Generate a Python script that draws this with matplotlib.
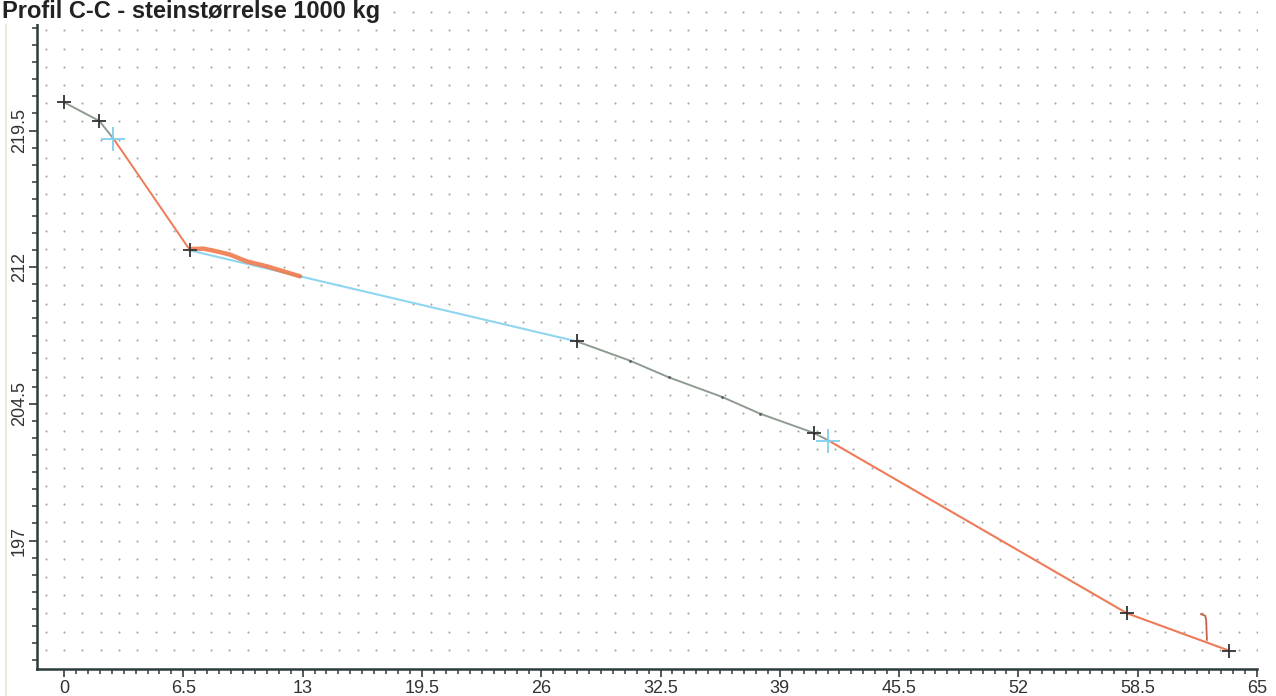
import numpy as np
import matplotlib.pyplot as plt
from matplotlib.lines import Line2D

# chart title
title = "Profil C-C - steinstørrelse 1000 kg"

# survey points (black crosses), distance / level
survey_x = [0, 1.92, 6.87, 27.94, 40.87, 57.91, 63.5]
survey_y = [221.05, 220.03, 212.92, 207.93, 202.9, 193.01, 190.95]

# breakpoints marked with a cyan cross
break_x = [2.69, 41.65]
break_y = [219.06, 202.49]

# profile pieces, each in its own colour
gray1_x = [0, 1.92, 2.69]
gray1_y = [221.05, 220.03, 219.06]
orange1_x = [2.69, 6.87]
orange1_y = [219.06, 212.92]
cyan_x = [6.87, 12.86, 27.94]
cyan_y = [212.92, 211.5, 207.93]
gray2_x = [27.94, 30.84, 32.97, 35.86, 37.93, 40.87, 41.65]
gray2_y = [207.93, 206.87, 205.95, 204.88, 203.96, 202.9, 202.49]
orange2_x = [41.65, 57.91, 63.5]
orange2_y = [202.49, 193.01, 190.95]

# thick hand drawn stroke after the 7 m point
stroke_x = [6.95, 7.6, 8.32, 9.05, 9.96, 11.05, 12.86]
stroke_y = [213.0, 213.02, 212.87, 212.69, 212.32, 212.05, 211.5]

# small hook mark near the end
hook_x = [61.95, 62.18, 62.23, 62.27]
hook_y = [192.96, 192.87, 192.65, 191.55]

x_ticks = [0, 6.5, 13, 19.5, 26, 32.5, 39, 45.5, 52, 58.5, 65]
x_labels = ["0", "6.5", "13", "19.5", "26", "32.5", "39", "45.5", "52", "58.5", "65"]
y_ticks = [197, 204.5, 212, 219.5]
y_labels = ["197", "204.5", "212", "219.5"]

GRAY = "#8e9c90"
ORANGE = "#ee7a58"
CYAN = "#8ed6f0"
AXIS = "#2c3c3c"
FONT = ["Liberation Sans", "DejaVu Sans"]

fig = plt.figure(figsize=(12.76, 6.96), dpi=100)
ax = fig.add_axes([36.7 / 1276, 27 / 696, (1257 - 36.7) / 1276, (669 - 11) / 696])
ax.set_xlim(-1.49, 65.0)
ax.set_ylim(189.95, 226.06)

# dotted grid: one dot per integer crossing
gx, gy = np.meshgrid(np.arange(-1, 66), np.arange(191, 227))
ax.scatter(gx.ravel(), gy.ravel(), s=2.2, color="#a4a4a4", linewidths=0, zorder=1)

ax.plot(gray1_x, gray1_y, color=GRAY, lw=1.4, zorder=3)
ax.plot(orange1_x, orange1_y, color=ORANGE, lw=1.4, zorder=3)
ax.plot(cyan_x, cyan_y, color=CYAN, lw=1.5, zorder=3)
ax.plot(gray2_x, gray2_y, color=GRAY, lw=1.4, zorder=3,
        marker="o", ms=2, mfc="#55605a", mec="none", markevery=range(1, 6))
ax.plot(orange2_x, orange2_y, color=ORANGE, lw=1.5, zorder=3)
ax.plot(stroke_x, stroke_y, color="#ef7a4c", lw=3.2, alpha=0.9, solid_capstyle="round", zorder=4)
ax.plot(hook_x, hook_y, color="#c8604e", lw=1.3, zorder=4)

ax.plot(survey_x, survey_y, ls="none", marker="+", ms=10, mew=1.3, color="#333333", zorder=5)
ax.plot(break_x, break_y, ls="none", marker="+", ms=17, mew=1.3, color="#7fcfee", zorder=5)

# axes look
for side in ["top", "right"]:
    ax.spines[side].set_visible(False)
for side in ["left", "bottom"]:
    ax.spines[side].set_color(AXIS)
    ax.spines[side].set_linewidth(1.8)

ax.set_xticks(x_ticks)
ax.set_xticklabels(x_labels)
ax.set_xticks(np.arange(0, 65.01, 0.65), minor=True)
ax.set_yticks(y_ticks)
ax.set_yticklabels(y_labels, rotation=90, va="center")
ax.set_yticks(np.arange(190.4375, 226.1, 0.9375), minor=True)

ax.tick_params(which="major", length=6, width=1.2, color=AXIS, labelsize=13,
               labelcolor="#333333")
ax.tick_params(axis="x", which="major", pad=2)
ax.tick_params(axis="y", which="major", pad=0.5)
ax.tick_params(which="minor", length=3.5, width=1.1, color=AXIS)
for lab in ax.get_xticklabels() + ax.get_yticklabels():
    lab.set_family(FONT)

# faint scanner edge on the left
fig.add_artist(Line2D([6 / 1276, 6 / 1276], [0, 1], color="#e6ead6", lw=1.2))

fig.text(2 / 1276, 1 - 18 / 696, title, fontsize=17, fontweight="bold", color="#222222",
         va="baseline", ha="left", family=FONT, zorder=6,
         bbox=dict(facecolor="white", edgecolor="none", pad=0.5))

fig.savefig("out.png", dpi=100)
